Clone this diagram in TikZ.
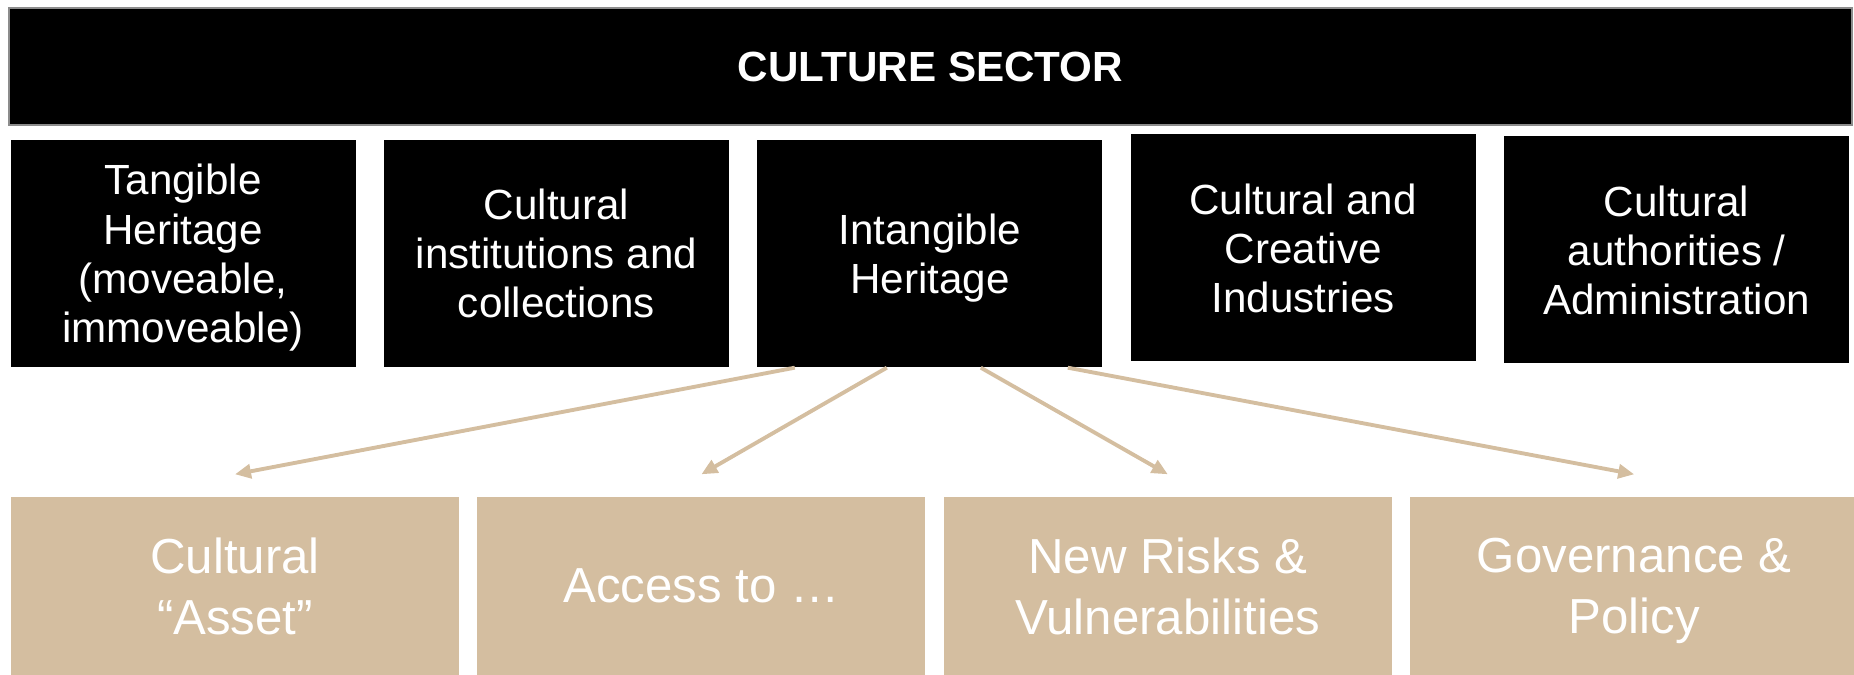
\documentclass[tikz,border=0pt]{standalone}
\usepackage{fontspec}
\setmainfont{Liberation Sans}
\usetikzlibrary{arrows.meta,positioning}
\definecolor{sand}{HTML}{D4BEA0}

\begin{document}
\begin{tikzpicture}[x=0.1mm,y=-0.1mm,
  node distance=2.7mm,
  sector/.style={draw=black!45,fill=black,text=white,inner sep=0pt,
    minimum width=184.3mm,minimum height=11.7mm,
    font=\bfseries\fontsize{12}{14}\selectfont},
  area/.style={fill=black,text=white,inner sep=0pt,align=center,
    minimum width=34.5mm,minimum height=22.7mm,text depth=0pt,
    font=\fontsize{12}{14}\selectfont},
  theme/.style={fill=sand,text=white,inner sep=0pt,align=center,
    minimum width=44.8mm,minimum height=17.8mm,text depth=0pt,
    font=\fontsize{14}{17.5}\selectfont},
  arr/.style={-{Triangle[length=1.6mm,width=1.4mm]},line width=1.1pt,sand}]
\useasboundingbox (0,0) rectangle (1854,675);
\node[sector] (cs) at (930.5,66.5) {CULTURE SECTOR};
% the five parts of the sector
\node[area] (th) at (183,253.5) {Tangible\\Heritage\\(moveable,\\immoveable)};
\node[area,right=of th] (ci) {Cultural\\institutions and\\collections};
\node[area,right=of ci] (ih) {Intangible\\Heritage};
\node[area,right=of ih,yshift=0.55mm] (cc) {Cultural and\\Creative\\Industries};
\node[area,right=of cc,yshift=-0.2mm] (ca) {Cultural\\authorities /\\Administration};
% themes along the bottom
\node[theme] (as) at (235,586) {Cultural\\“Asset”};
\node[theme,right=1.7mm of as] (ac) {Access to …};
\node[theme,right=1.7mm of ac] (nr) {New Risks \&\\Vulnerabilities};
\node[theme,right=1.7mm of nr] (gp) {Governance \&\\Policy};
\draw[arr] ([xshift=-13.5mm]ih.south) -- ([yshift=2.2mm]as.north);
\draw[arr] ([xshift=-4.3mm]ih.south) -- ([yshift=2.2mm]ac.north);
\draw[arr] ([xshift=5.1mm]ih.south) -- ([yshift=2.2mm]nr.north);
\draw[arr] ([xshift=13.8mm]ih.south) -- ([yshift=2.2mm]gp.north);
\end{tikzpicture}
\end{document}
